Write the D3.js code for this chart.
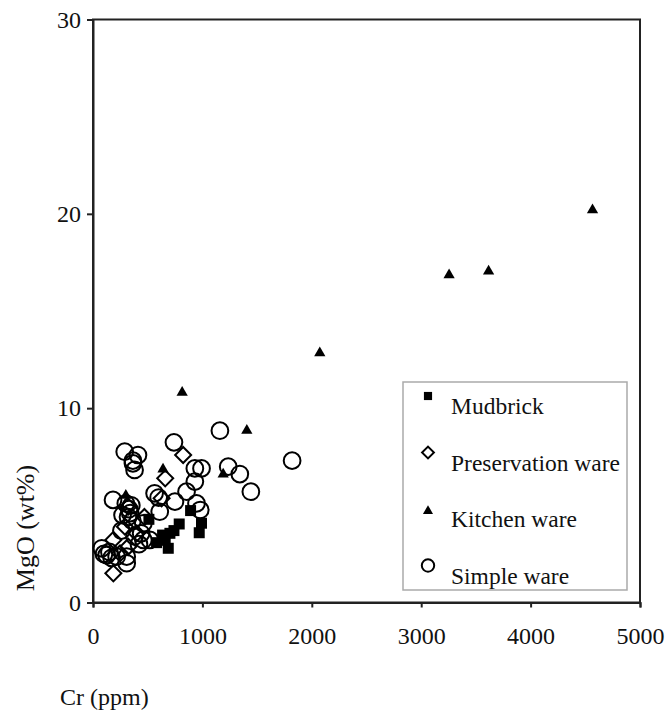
<!DOCTYPE html>
<html>
<head>
<meta charset="utf-8">
<script src="https://cdn.jsdelivr.net/npm/d3@7"></script>
<style>
  body { margin: 0; background: #fff; }
  svg text { font-family: "Liberation Serif", "Times New Roman", Times, serif !important; fill: #111; }
</style>
</head>
<body>
<div id="chart"></div>
<script>
// Cr (ppm), MgO (wt%)
const mudbrick = [
    [511, 4.28], [636, 3.47], [581, 3.08], [688, 2.79], [703, 3.56], [740, 3.7],
    [788, 4.04], [892, 4.73], [971, 3.59], [992, 4.08], [660, 3.2]
];
const preservation = [
    [824, 7.59], [660, 6.39], [627, 5.36], [322, 4.93], [292, 3.9], [399, 3.56],
    [186, 3.22], [322, 2.87], [247, 2.53], [186, 1.5], [470, 4.4]
];
const kitchen = [
    [4566, 20.2], [3616, 17.05], [3255, 16.85], [2073, 12.84], [815, 10.8],
    [1406, 8.85], [1190, 6.6], [640, 6.86], [300, 5.5]
];
const simple = [
    [1160, 8.84], [740, 8.24], [290, 7.76], [411, 7.59], [365, 7.3], [365, 7.16],
    [380, 6.82], [931, 6.9], [992, 6.9], [1236, 6.99], [1342, 6.61], [1443, 5.7],
    [1820, 7.3], [931, 6.22], [855, 5.7], [563, 5.62], [600, 5.4], [183, 5.28],
    [300, 5.1], [350, 5.0], [330, 4.8], [340, 4.6], [320, 4.4], [360, 4.2],
    [610, 4.67], [749, 5.19], [946, 5.1], [980, 4.76], [460, 4.07], [440, 3.56],
    [460, 3.22], [520, 3.22], [270, 4.5], [80, 2.79], [125, 2.44], [216, 2.36],
    [308, 2.36], [308, 2.02], [150, 2.6], [170, 2.3], [100, 2.5], [420, 3.0],
    [380, 3.4], [260, 3.7]
];
const xTicks = [0, 1000, 2000, 3000, 4000, 5000];
const yTicks = [0, 10, 20, 30];
const legendNames = ["Mudbrick", "Preservation ware", "Kitchen ware", "Simple ware"];

const width = 666, height = 723;
const margin = { top: 19.5, right: 26, bottom: 120.5, left: 93 };
const serif = "'Liberation Serif', 'Times New Roman', Times, serif";

const svg = d3.select("#chart").append("svg")
    .attr("width", width)
    .attr("height", height);

const x = d3.scaleLinear().domain([0, 5000]).range([margin.left, width - margin.right]);
const y = d3.scaleLinear().domain([0, 30]).range([height - margin.bottom, margin.top]);

// plot frame
svg.append("rect")
    .attr("x", x(0)).attr("y", y(30))
    .attr("width", x(5000) - x(0)).attr("height", y(0) - y(30))
    .attr("fill", "none").attr("stroke", "#222").attr("stroke-width", 2);

const xAxis = svg.append("g")
    .attr("transform", `translate(0,${y(0)})`)
    .call(d3.axisBottom(x).tickValues(xTicks).tickSize(5).tickPadding(19).tickFormat(d3.format("d")));
const yAxis = svg.append("g")
    .attr("transform", `translate(${x(0)},0)`)
    .call(d3.axisLeft(y).tickValues(yTicks).tickSize(6).tickPadding(6));

[xAxis, yAxis].forEach(g => {
    g.attr("font-family", serif);
    g.select(".domain").attr("stroke", "#222").attr("stroke-width", 2);
    g.selectAll(".tick line").attr("stroke", "#222").attr("stroke-width", 2);
    g.selectAll(".tick text").attr("fill", "#111").style("font-size", "24px");
});

// axis titles
svg.append("text")
    .attr("x", 60).attr("y", 705)
    .style("font-size", "24px")
    .text("Cr (ppm)");

svg.append("text")
    .attr("transform", "translate(34,528) rotate(-90)")
    .style("text-anchor", "middle")
    .style("font-size", "26px")
    .text("MgO (wt%)");

// symbols
const shapes = {
    "Mudbrick": { type: d3.symbolSquare, size: 121, rot: 0, fill: "#000", stroke: "none" },
    "Preservation ware": { type: d3.symbolSquare, size: 128, rot: 45, fill: "none", stroke: "#000" },
    "Kitchen ware": { type: d3.symbolTriangle, size: 55, rot: 0, fill: "#000", stroke: "none" },
    "Simple ware": { type: d3.symbolCircle, size: 220, rot: 0, fill: "none", stroke: "#000" }
};
const seriesData = [mudbrick, preservation, kitchen, simple];

seriesData.forEach((data, i) => {
    const s = shapes[legendNames[i]];
    svg.append("g").selectAll("path")
        .data(data)
        .enter()
        .append("path")
        .attr("d", d3.symbol().type(s.type).size(s.size))
        .attr("transform", d => `translate(${x(d[0])},${y(d[1])}) rotate(${s.rot})`)
        .attr("fill", s.fill)
        .attr("stroke", s.stroke)
        .attr("stroke-width", 2);
});

// legend
const legend = svg.append("g").attr("transform", "translate(403,382)");
legend.append("rect")
    .attr("width", 224).attr("height", 208)
    .attr("fill", "#fff").attr("stroke", "#aaa").attr("stroke-width", 1.5);

const legendItems = legend.selectAll(".legendItem")
    .data(legendNames)
    .enter()
    .append("g")
    .attr("class", "legendItem")
    .attr("transform", (d, i) => `translate(0, ${i * 56.5})`);

legendItems.append("path")
    .attr("d", d => d3.symbol().type(shapes[d].type).size(shapes[d].size * (d === "Kitchen ware" ? 0.8 : 0.55))())
    .attr("transform", d => `translate(25,${d === "Kitchen ware" ? 16 : 14}) rotate(${shapes[d].rot})`)
    .attr("fill", d => shapes[d].fill)
    .attr("stroke", d => shapes[d].stroke)
    .attr("stroke-width", 2);

legendItems.append("text")
    .attr("x", 48).attr("y", 32)
    .style("font-size", "23.5px")
    .text(d => d);
</script>
</body>
</html>
